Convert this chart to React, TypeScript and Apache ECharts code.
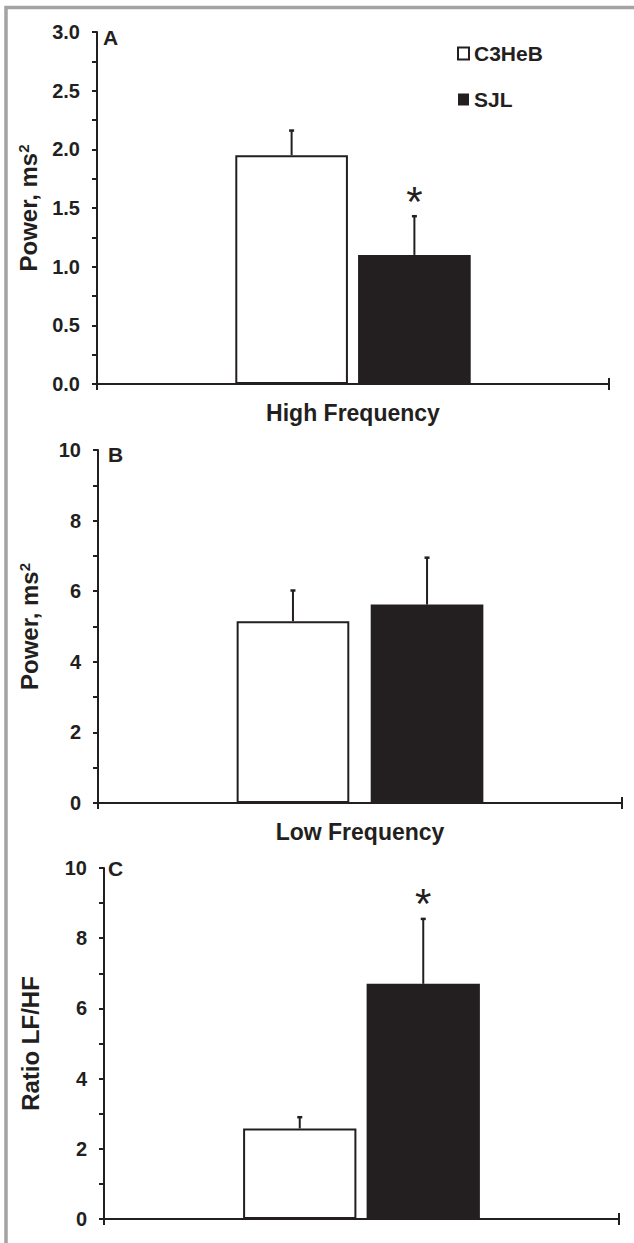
import React, { useEffect, useRef } from "react";
import * as echarts from "echarts";

const strains = ["C3HeB", "SJL"];
const category = ["x"];
const hfMean = [1.95, 1.1];
const hfErr = [0.21, 0.33];
const hfSig = [false, true];
const lfMean = [5.15, 5.62];
const lfErr = [0.87, 1.33];
const lfSig = [false, false];
const ratioMean = [2.58, 6.7];
const ratioErr = [0.32, 1.85];
const ratioSig = [false, true];
const panelLabels = ["A", "B", "C"];
const xNames = ["High Frequency", "Low Frequency", ""];
const yNames = ["Power, ms{sup|2}", "Power, ms{sup|2}", "Ratio LF/HF"];

const INK = "#231f20";
const FONT = "'Liberation Sans', Arial, sans-serif";

export default function App() {
  const ref = useRef<HTMLDivElement>(null);
  useEffect(() => {
    document.body.style.margin = "0";
    const chart = echarts.init(ref.current!, null, { renderer: "svg" });

    const panels = [
      { mean: hfMean, err: hfErr, sig: hfSig, max: 3, interval: 0.5, fmt: (v: number) => v.toFixed(1),
        grid: { left: 97, top: 32, width: 512, height: 352 }, bw: 0.22, gap: 0.09, nameGap: 56, label: { left: 103, top: 27 } },
      { mean: lfMean, err: lfErr, sig: lfSig, max: 10, interval: 2, fmt: (v: number) => String(v),
        grid: { left: 98, top: 450, width: 524, height: 353 }, bw: 0.215, gap: 0.19, nameGap: 56, label: { left: 108, top: 444 } },
      { mean: ratioMean, err: ratioErr, sig: ratioSig, max: 10, interval: 2, fmt: (v: number) => String(v),
        grid: { left: 104, top: 868, width: 515, height: 351 }, bw: 0.22, gap: 0.09, nameGap: 62, label: { left: 108, top: 858 } },
    ];

    const grid: any[] = [];
    const xAxis: any[] = [];
    const yAxis: any[] = [];
    const series: any[] = [];
    const title: any[] = [];

    panels.forEach((p, i) => {
      grid.push({ ...p.grid, containLabel: false });
      title.push({
        text: panelLabels[i], left: p.label.left, top: p.label.top, padding: 0,
        textStyle: { fontFamily: FONT, fontWeight: "bold", fontSize: 21, color: INK },
      });
      xAxis.push({
        type: "category", gridIndex: i, data: category, boundaryGap: true,
        axisLine: { lineStyle: { color: INK, width: 2 } },
        axisTick: { show: true, length: 6, inside: false, lineStyle: { color: INK, width: 2 } },
        axisLabel: { show: false },
        name: xNames[i], nameLocation: "middle", nameGap: 17,
        nameTextStyle: { fontFamily: FONT, fontWeight: "bold", fontSize: 23, color: INK, verticalAlign: "top" },
      });
      xAxis.push({
        type: "category", gridIndex: i, data: category, boundaryGap: true, position: "bottom", offset: 0,
        axisLine: { show: false },
        axisTick: { show: true, length: 6, inside: true, lineStyle: { color: INK, width: 2 } },
        axisLabel: { show: false },
      });
      yAxis.push({
        type: "value", gridIndex: i, min: 0, max: p.max, interval: p.interval,
        axisLine: { show: true, lineStyle: { color: INK, width: 2 } },
        axisTick: { show: true, length: 5, lineStyle: { color: INK, width: 2 } },
        minorTick: { show: true, splitNumber: 2, length: 5, lineStyle: { color: INK, width: 2 } },
        splitLine: { show: false },
        axisLabel: { formatter: p.fmt, margin: 17, fontFamily: FONT, fontWeight: "bold", fontSize: 20, color: INK },
        name: yNames[i], nameLocation: "middle", nameRotate: 90, nameGap: p.nameGap,
        nameTextStyle: {
          fontFamily: FONT, fontWeight: "bold", fontSize: 24, color: INK,
          rich: { sup: { fontFamily: FONT, fontWeight: "bold", fontSize: 15, color: INK, verticalAlign: "top", padding: [0, 0, 10, 0] } },
        },
      });
      const xIdx = i * 2;
      strains.forEach((s, k) => {
        series.push({
          type: "bar", name: s, xAxisIndex: xIdx, yAxisIndex: i,
          data: [p.mean[k]], barWidth: p.bw * 100 + "%", barGap: p.gap * 100 + "%",
          itemStyle: k === 0 ? { color: "#ffffff", borderColor: INK, borderWidth: 2 } : { color: INK, borderColor: INK, borderWidth: 0 },
        });
      });
      series.push({
        type: "custom", xAxisIndex: xIdx, yAxisIndex: i, silent: true,
        data: strains.map((_, k) => [0, p.mean[k], p.err[k], k, p.sig[k] ? 1 : 0]),
        renderItem: (params: any, api: any) => {
          const c = api.value(0), m = api.value(1), e = api.value(2), k = api.value(3), sig = api.value(4);
          const band = api.size([1, 0])[0];
          const bw = band * p.bw;
          const gap = bw * p.gap;
          const cx = api.coord([c, 0])[0] + (k === 0 ? -1 : 1) * (bw + gap) / 2;
          const yTop = api.coord([c, m + e])[1];
          const yBase = api.coord([c, m])[1];
          const children: any[] = [
            { type: "line", shape: { x1: cx, y1: yBase, x2: cx, y2: yTop }, style: { stroke: INK, lineWidth: 2 } },
            { type: "line", shape: { x1: cx - 2.5, y1: yTop, x2: cx + 2.5, y2: yTop }, style: { stroke: INK, lineWidth: 2.5 } },
          ];
          if (sig) {
            children.push({
              type: "text", x: cx, y: yTop - 15,
              style: { text: "*", fontFamily: FONT, fontSize: 42, fill: INK, align: "center", verticalAlign: "middle" },
            });
          }
          return { type: "group", children };
        },
        z: 3,
      });
    });

    chart.setOption({
      animation: false,
      backgroundColor: "#ffffff",
      title,
      grid,
      xAxis,
      yAxis,
      series,
      legend: {
        data: strains, orient: "vertical", left: 452, top: 38, itemGap: 25,
        icon: "rect", itemWidth: 11, itemHeight: 12,
        textStyle: { fontFamily: FONT, fontWeight: "bold", fontSize: 21, color: INK },
        selectedMode: false,
      },
      graphic: [
        { type: "rect", shape: { x: 6, y: 7.5, width: 700, height: 1300 }, style: { fill: "none", stroke: "#a3a3a3", lineWidth: 3.5 }, silent: true },
      ],
    });
    return () => chart.dispose();
  }, []);
  return <div ref={ref} style={{ width: 634, height: 1243 }} />;
}
